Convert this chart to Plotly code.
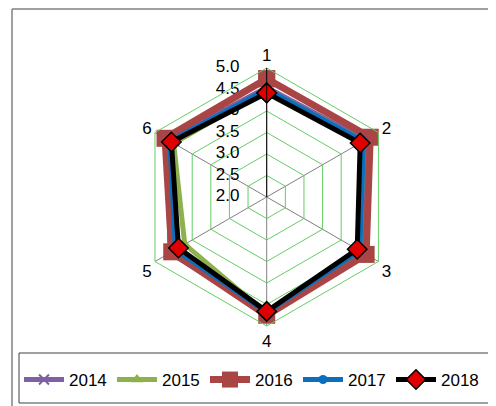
import plotly.graph_objects as go

categories = ["1", "2", "3", "4", "5", "6"]
years = ["2014", "2015", "2016", "2017", "2018"]
v2014 = [4.55, 4.65, 4.55, 4.70, 4.60, 4.65]
v2015 = [4.50, 4.60, 4.50, 4.72, 4.20, 4.50]
v2016 = [4.75, 4.78, 4.67, 4.75, 4.55, 4.73]
v2017 = [4.50, 4.60, 4.50, 4.68, 4.45, 4.60]
v2018 = [4.42, 4.51, 4.43, 4.66, 4.37, 4.56]
radial_ticks = [2.0, 2.5, 3.0, 3.5, 4.0, 4.5, 5.0]

series = [
    (years[0], v2014, dict(color="#7F60A3", width=5),
     dict(symbol="x-thin", size=10, line=dict(color="#7F60A3", width=2), color="#7F60A3")),
    (years[1], v2015, dict(color="#8DB14C", width=5),
     dict(symbol="triangle-up", size=11, color="#8DB14C")),
    (years[2], v2016, dict(color="#A94645", width=7),
     dict(symbol="square", size=17, color="#A94645")),
    (years[3], v2017, dict(color="#0A70BE", width=5),
     dict(symbol="circle", size=9, color="#0A70BE")),
    (years[4], v2018, dict(color="#000000", width=5),
     dict(symbol="diamond", size=15, color="#E00000", line=dict(color="#000000", width=1.5))),
]

fig = go.Figure()

# radial tick labels, placed left of the "1" spoke through the polar scales
fig.add_trace(go.Scatterpolar(
    r=radial_ticks,
    theta=[categories[0]] * len(radial_ticks),
    mode="markers+text",
    text=[f"{v:.1f}" for v in radial_ticks],
    textposition="middle left",
    textfont=dict(size=17, color="#000000"),
    marker=dict(size=42, color="rgba(0,0,0,0)"),
    showlegend=False,
    hoverinfo="skip",
))

for name, vals, line, marker in series:
    fig.add_trace(go.Scatterpolar(
        r=vals + vals[:1],
        theta=categories + categories[:1],
        mode="lines+markers",
        name=name,
        line=line,
        marker=marker,
    ))

# page has an 8px body margin: figure pixel = window pixel - 8
OFF = 8
W, H = 488, 398

def px(x):
    return (x - OFF) / W

def py(y):
    return (H - (y - OFF)) / H

cx, cy, R = 266.7, 197.0, 129.0

fig.update_layout(
    width=W, height=H,
    margin=dict(l=0, r=0, t=0, b=0, autoexpand=False),
    paper_bgcolor="white",
    font=dict(family="Liberation Sans, Arial, sans-serif", size=17, color="#000000"),
    polar=dict(
        domain=dict(x=[px(cx - R), px(cx + R)], y=[py(cy + R), py(cy - R)]),
        bgcolor="white",
        gridshape="linear",
        angularaxis=dict(
            direction="clockwise", rotation=90,
            showline=True, linecolor="#66CC66", linewidth=1,
            gridcolor="#808080", gridwidth=1,
            ticks="", tickfont=dict(size=17),
        ),
        radialaxis=dict(
            range=[1.999, 5.0], tickvals=radial_ticks,
            showticklabels=False,
            angle=90,
            showline=True, linecolor="#000000", linewidth=1,
            gridcolor="#66CC66", gridwidth=1,
            ticks="",
        ),
    ),
    showlegend=True,
    legend=dict(
        orientation="h", x=px(19), y=py(380), xanchor="left", yanchor="middle",
        borderwidth=0, bgcolor="rgba(0,0,0,0)",
        font=dict(size=17), itemwidth=40, entrywidth=38,
        itemclick=False,
    ),
    shapes=[
        dict(type="line", xref="paper", yref="paper", x0=px(12), x1=1, y0=py(9), y1=py(9),
             line=dict(color="#808080", width=1.5), layer="below"),
        dict(type="line", xref="paper", yref="paper", x0=px(12), x1=px(12), y0=0, y1=py(9),
             line=dict(color="#808080", width=1.5), layer="below"),
        dict(type="rect", xref="paper", yref="paper", x0=px(19), x1=px(492), y0=py(403), y1=py(353),
             line=dict(color="#404040", width=1), fillcolor="white", layer="below"),
    ],
)

fig.write_html("out.html")
